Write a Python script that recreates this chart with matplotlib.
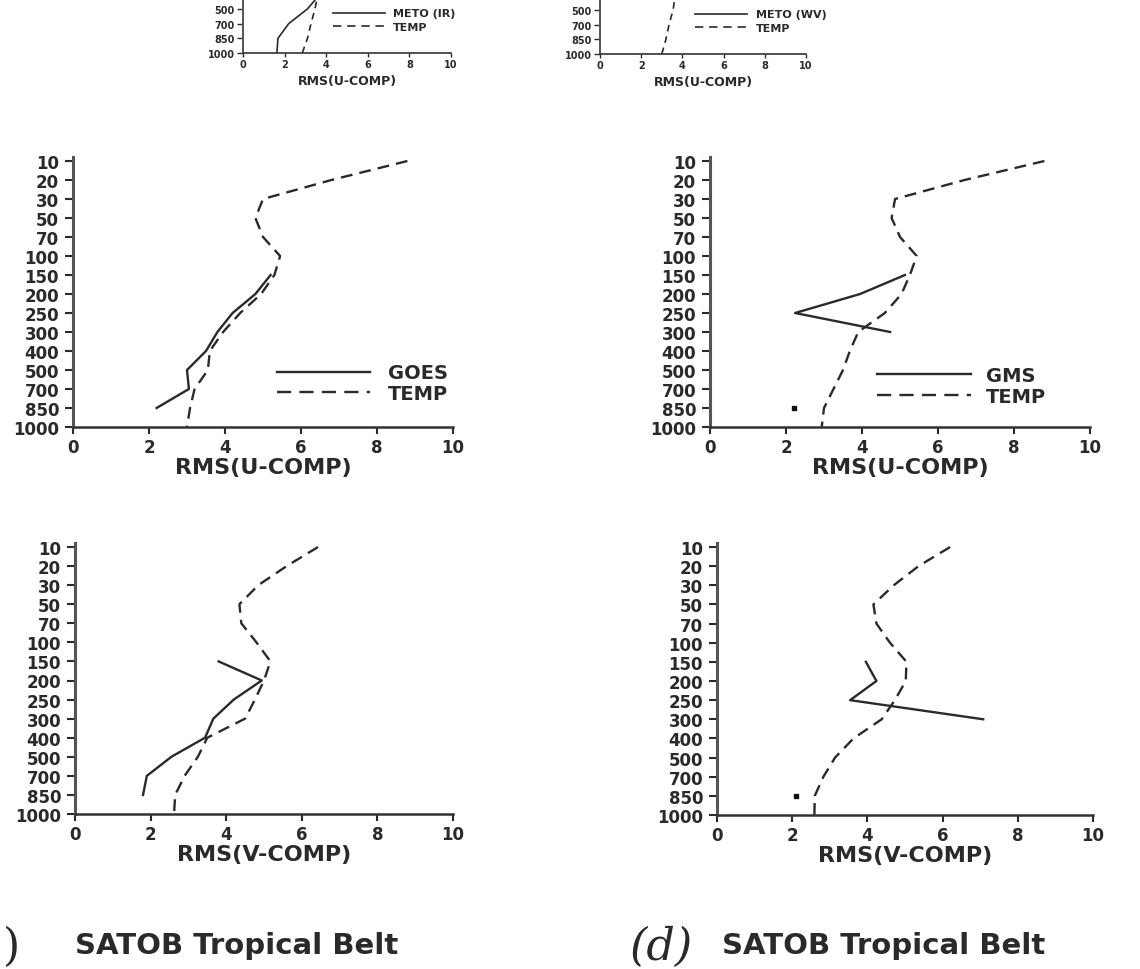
import numpy as np
import matplotlib
matplotlib.use("Agg")
import matplotlib.pyplot as plt
from matplotlib.lines import Line2D

# pressure levels (hPa), drawn as equally spaced categories
levels = [10, 20, 30, 50, 70, 100, 150, 200, 250, 300, 400, 500, 700, 850, 1000]

# top row (only the lowest levels are visible in the scan)
meto_ir_lev = [1000, 850, 700, 500, 400]
meto_ir_u = [1.63, 1.68, 2.2, 3.1, 3.7]
temp_ir_u = [2.85, 3.1, 3.27, 3.46, 3.6]
meto_wv_lev = [1000, 850, 700, 500, 400]
temp_wv_u = [3.0, 3.2, 3.35, 3.55, 3.65]

# GOES, U component
goes_u_lev = [150, 200, 250, 300, 400, 500, 700, 850]
goes_u = [5.2, 4.8, 4.2, 3.8, 3.5, 3.0, 3.05, 2.2]
temp_goes_u = [8.8, 6.8, 5.0, 4.8, 5.0, 5.45, 5.3, 4.95, 4.4, 3.95, 3.6, 3.55, 3.2, 3.08, 3.0]

# GMS, U component
gms_u_lev = [150, 200, 250, 300]
gms_u = [5.13, 3.95, 2.24, 4.74]
gms_u_850 = 2.2
temp_gms_u = [8.8, 6.7, 4.87, 4.78, 5.0, 5.44, 5.26, 5.04, 4.6, 3.9, 3.68, 3.5, 3.25, 3.0, 2.94]

# GOES, V component
goes_v_lev = [150, 200, 250, 300, 400, 500, 700, 850]
goes_v = [3.8, 4.94, 4.2, 3.66, 3.44, 2.55, 1.9, 1.8]
temp_goes_v = [6.43, 5.6, 4.85, 4.35, 4.4, 4.8, 5.17, 5.0, 4.76, 4.5, 3.5, 3.25, 2.9, 2.65, 2.62]

# GMS, V component
gms_v_lev = [150, 200, 250, 300]
gms_v = [3.96, 4.24, 3.54, 7.08]
gms_v_850 = 2.1
temp_gms_v = [6.2, 5.36, 4.7, 4.16, 4.24, 4.6, 5.04, 5.02, 4.73, 4.38, 3.63, 3.14, 2.83, 2.6, 2.59]

W, H = 1140, 970
ink = "#2a2a2a"
pos = {lev: i for i, lev in enumerate(levels)}


def idx(levs):
    return [pos[l] for l in levs]


fig = plt.figure(figsize=(W / 100, H / 100), dpi=100)


def make_axes(x0, x10, y_first, y_last, tick_fs, label_fs, xlabel, labelpad, big=True):
    sp = (y_last - y_first) / 14
    top = y_first - 0.2 * sp
    ax = fig.add_axes([x0 / W, 1 - y_last / H, (x10 - x0) / W, (y_last - top) / H])
    ax.set_xlim(0, 10)
    ax.set_ylim(14, -0.2)
    ax.set_xticks(range(0, 11, 2))
    ax.set_yticks(range(len(levels)))
    if big:
        ax.set_yticklabels(levels)
    else:
        # the upper part of these panels is cut off in the scan
        ax.set_yticklabels([str(l) if l >= 500 else "" for l in levels])
    for s in ["top", "right"]:
        ax.spines[s].set_visible(False)
    ax.spines["left"].set_color("#555555")
    ax.spines["left"].set_linewidth(2.2 if big else 1.4)
    ax.spines["bottom"].set_color("#333333")
    ax.spines["bottom"].set_linewidth(1.8 if big else 1.2)
    ax.tick_params(axis="y", direction="out", length=6 if big else 4, width=1.5 if big else 1,
                   pad=4 if big else 2, colors=ink, labelsize=tick_fs)
    ax.tick_params(axis="x", direction="out", length=5 if big else 3, width=1.5 if big else 1,
                   pad=3 if big else 1, colors=ink, labelsize=tick_fs)
    for lab in ax.get_xticklabels() + ax.get_yticklabels():
        lab.set_fontweight("bold")
    ax.set_xlabel(xlabel, fontsize=label_fs, fontweight="bold", color=ink, labelpad=labelpad)
    ax.patch.set_alpha(0)
    return ax


def add_legend(ax, names, fs, lw, dash, hl, pad, spacing, anchor):
    handles = [Line2D([], [], color=ink, lw=lw),
               Line2D([], [], color=ink, lw=lw, ls=(0, dash))]
    ax.legend(handles, names, loc="center left", bbox_to_anchor=anchor, frameon=False,
              borderpad=0, borderaxespad=0, handlelength=hl, handletextpad=pad,
              labelspacing=spacing, prop={"weight": "bold", "size": fs}, labelcolor=ink)


# ---- top row (cut off by the scan) ----
ax = make_axes(243, 451, 54 - 14 * 14.7, 54, 7, 9, "RMS(U-COMP)", 4, big=False)
ax.plot(meto_ir_u, idx(meto_ir_lev), color=ink, lw=1.2)
ax.plot(temp_ir_u, idx(meto_ir_lev), color=ink, lw=1.2, ls=(0, (4, 3)))
add_legend(ax, ["METO (IR)", "TEMP"], 8, 1.2, (5, 3.5), 4.7, 0.7, 0.35, (0.433, 0.156))

ax = make_axes(600, 806, 55 - 14 * 14.7, 55, 7, 9, "RMS(U-COMP)", 4, big=False)
ax.plot(temp_wv_u, idx(meto_wv_lev), color=ink, lw=1.2, ls=(0, (4, 3)))
add_legend(ax, ["METO (WV)", "TEMP"], 8, 1.2, (5, 3.5), 4.7, 0.8, 0.35, (0.461, 0.156))

# ---- middle row: U component ----
ax = make_axes(73, 453, 162, 428, 12, 16, "RMS(U-COMP)", 1)
ax.plot(temp_goes_u, range(len(levels)), color=ink, lw=1.7, ls=(0, (5, 3)))
ax.plot(goes_u, idx(goes_u_lev), color=ink, lw=1.7)
add_legend(ax, ["GOES", "TEMP"], 14, 1.7, (6, 3.5), 4.8, 0.88, 0.1, (0.537, 0.162))

ax = make_axes(710, 1090, 162, 428, 12, 16, "RMS(U-COMP)", 1)
ax.plot(temp_gms_u, range(len(levels)), color=ink, lw=1.7, ls=(0, (5, 3)))
ax.plot(gms_u, idx(gms_u_lev), color=ink, lw=1.7)
ax.plot([gms_u_850], [pos[850]], ls="none", marker="s", ms=3.5, color="#111111")
add_legend(ax, ["GMS", "TEMP"], 14, 1.7, (6, 3.5), 4.8, 0.77, 0.1, (0.44, 0.153))

# ---- bottom row: V component ----
ax = make_axes(75, 453, 548, 815, 12, 16, "RMS(V-COMP)", 1)
ax.plot(temp_goes_v, range(len(levels)), color=ink, lw=1.7, ls=(0, (5, 3)))
ax.plot(goes_v, idx(goes_v_lev), color=ink, lw=1.7)

ax = make_axes(717, 1093, 548, 816, 12, 16, "RMS(V-COMP)", 1)
ax.plot(temp_gms_v, range(len(levels)), color=ink, lw=1.7, ls=(0, (5, 3)))
ax.plot(gms_v, idx(gms_v_lev), color=ink, lw=1.7)
ax.plot([gms_v_850], [pos[850]], ls="none", marker="s", ms=3.5, color="#111111")

# captions
fig.text(75 / W, 1 - 946 / H, "SATOB Tropical Belt", fontsize=21, fontweight="bold",
         color=ink, ha="left", va="center")
fig.text(722 / W, 1 - 946 / H, "SATOB Tropical Belt", fontsize=21, fontweight="bold",
         color=ink, ha="left", va="center")
# only the closing bracket of the handwritten "(c)" survives at the page edge
fig.text(3 / W, 1 - 947 / H, ")", fontsize=32, family="DejaVu Serif",
         color=ink, ha="left", va="center")
fig.text(630 / W, 1 - 947 / H, "(d)", fontsize=32, family="DejaVu Serif", style="italic",
         color=ink, ha="left", va="center")

fig.savefig("out.png", dpi=100, facecolor="white")
